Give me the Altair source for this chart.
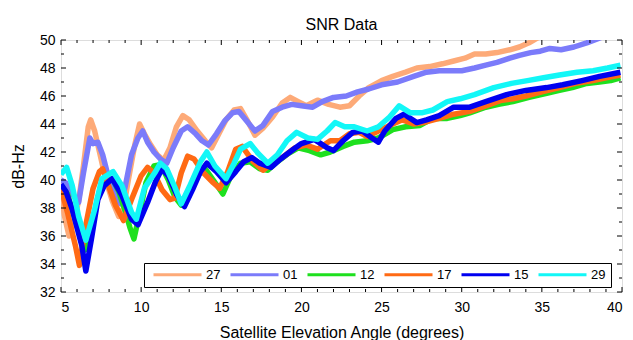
import altair as alt
import pandas as pd

# ---- data ----
series_names = ["27", "01", "12", "17", "15", "29"]
series_colors = ["#FDAA78", "#7B7BFA", "#1EE01E", "#FF6A14", "#0000F0", "#12F7F7"]

x27 = [5.0, 5.2, 5.5, 5.8, 6.1, 6.4, 6.7, 6.85, 7.1, 7.4, 7.8, 8.2, 8.6, 8.9, 9.2, 9.6, 9.9,
       10.2, 10.6, 11.0, 11.4, 11.8, 12.2, 12.6, 13.0, 13.5, 14.0, 14.4, 14.8, 15.3, 15.8,
       16.2, 16.6, 17.1, 17.6, 18.2, 18.8, 19.3, 19.8, 20.3, 21.0, 21.7, 22.4, 23.0, 23.6,
       24.2, 25.0, 25.7, 26.5, 27.2, 28.0, 28.8, 29.5, 30.2, 30.8, 31.5, 32.2, 33.0, 33.6,
       34.2, 34.8, 35.5]
y27 = [39.8, 37.5, 36.0, 37.0, 38.5, 41.0, 43.8, 44.3, 43.5, 42.0, 40.0, 38.5, 37.4, 38.0,
       40.0, 42.5, 44.0, 43.3, 42.5, 41.8, 41.4, 42.3, 43.8, 44.6, 44.3, 43.5, 42.8, 42.3,
       43.2, 44.3, 45.0, 45.1, 44.3, 43.2, 43.7, 44.5, 45.5, 45.9, 45.6, 45.3, 45.7, 45.4,
       45.2, 45.3, 46.0, 46.6, 47.1, 47.4, 47.7, 48.0, 48.1, 48.3, 48.5, 48.7, 49.0, 49.0,
       49.1, 49.3, 49.5, 49.8, 50.2, 50.5]

x01 = [5.0, 5.3, 5.7, 6.1, 6.4, 6.8, 7.0, 7.3, 7.6, 8.0, 8.4, 8.7, 9.0, 9.4, 9.8, 10.1,
       10.4, 10.8, 11.2, 11.6, 12.0, 12.5, 12.9, 13.4, 13.8, 14.2, 14.7, 15.2, 15.7, 16.1,
       16.6, 17.1, 17.6, 18.2, 18.8, 19.4, 20.0, 20.7, 21.3, 22.0, 22.8, 23.5, 24.2, 25.0,
       26.0, 27.0, 27.8, 28.6, 29.3, 30.0, 30.8, 31.5, 32.2, 33.0, 33.6, 34.3, 34.9, 35.5,
       36.2, 37.0, 37.8, 38.5, 39.2]
y01 = [40.0, 39.8, 39.0, 38.4, 40.5, 43.0, 42.6, 42.7, 41.8, 40.0, 38.8, 38.3, 39.5, 41.8,
       43.0, 43.5, 42.7, 42.0, 41.5, 41.2, 42.3, 43.5, 43.8, 43.3, 42.8, 42.5, 43.3, 44.2,
       44.8, 44.9, 44.2, 43.5, 43.9, 44.9, 45.2, 45.4, 45.3, 45.2, 45.6, 45.9, 46.0, 46.3,
       46.5, 46.8, 47.0, 47.4, 47.7, 47.8, 47.8, 47.8, 48.0, 48.2, 48.4, 48.7, 48.9, 49.1,
       49.2, 49.4, 49.3, 49.5, 49.8, 50.1, 50.4]

x12 = [5.0, 5.4, 5.8, 6.2, 6.5, 6.9, 7.3, 7.7, 8.2, 8.6, 9.0, 9.3, 9.55, 9.9, 10.3, 10.8,
       11.2, 11.7, 12.1, 12.5, 13.0, 13.5, 14.0, 14.5, 15.1, 15.6, 16.2, 16.8, 17.4, 17.9,
       18.5, 19.2, 19.8, 20.5, 21.2, 21.8, 22.6, 23.3, 24.1, 24.8, 25.7, 26.5, 27.4, 28.2,
       29.1, 29.9, 30.5, 31.5, 32.3, 33.2, 34.2, 35.3, 36.1, 36.9, 37.8, 38.6, 39.3, 39.9]
y12 = [39.6, 39.0, 37.5, 36.0, 35.0, 36.5, 38.8, 39.8, 40.1, 39.2, 37.8, 36.6, 35.8, 37.6,
       39.8, 41.0, 41.1, 40.0, 38.8, 38.2, 39.3, 40.3, 40.8, 40.0, 39.0, 40.3, 41.2, 41.3,
       40.8, 40.7, 41.3, 41.9, 42.3, 42.1, 41.8, 42.0, 42.4, 42.7, 42.8, 43.0, 43.6, 43.8,
       43.9, 44.4, 44.4, 44.6, 44.8, 45.2, 45.4, 45.6, 45.9, 46.2, 46.4, 46.6, 46.9, 47.0,
       47.1, 47.3]

x17 = [5.0, 5.4, 5.9, 6.15, 6.5, 7.0, 7.4, 7.6, 7.9, 8.4, 8.9, 9.4, 10.0, 10.4, 10.8, 11.3,
       11.8, 12.1, 12.5, 12.9, 13.3, 13.9, 14.5, 14.9, 15.4, 15.9, 16.3, 17.0, 17.6, 18.2,
       18.8, 19.6, 20.3, 21.0, 21.8, 22.4, 23.0, 23.6, 24.1, 24.8, 25.7, 26.3, 27.0, 27.6,
       28.6, 29.5, 30.5, 31.5, 32.5, 33.2, 34.0, 35.0, 36.1, 37.1, 38.2, 39.0, 39.9]
y17 = [39.4, 37.7, 35.3, 33.9, 36.5, 39.4, 40.6, 40.8, 39.8, 38.2, 37.1, 38.6, 40.3, 40.9,
       40.5, 39.3, 38.6, 38.7, 40.5, 41.7, 41.5, 40.5, 39.8, 39.4, 40.6, 42.2, 42.4, 41.3,
       40.7, 41.2, 41.6, 42.3, 42.5, 42.2, 42.8, 42.8, 43.3, 43.4, 43.1, 43.5, 44.0, 44.3,
       44.0, 44.1, 44.4, 44.7, 44.9, 45.3, 45.7, 45.8, 46.0, 46.3, 46.6, 46.9, 47.1, 47.3,
       47.5]

x15 = [5.0, 5.3, 5.7, 6.3, 6.55, 6.9, 7.3, 7.7, 8.2, 8.8, 9.4, 9.8, 10.4, 10.9, 11.3, 11.7,
       12.2, 12.7, 13.2, 13.7, 14.1, 14.7, 15.3, 15.9, 16.4, 16.9, 17.4, 18.1, 18.7, 19.5,
       20.0, 20.8, 21.6, 22.0, 22.6, 23.2, 23.8, 24.4, 24.8, 25.2, 25.9, 26.4, 27.2, 27.8,
       28.6, 29.5, 30.5, 31.5, 32.8, 34.0, 35.3, 36.3, 37.5, 38.6, 39.9]
y15 = [39.7, 39.2, 37.9, 35.3, 33.5, 35.8, 38.6, 39.6, 40.1, 38.9, 37.2, 36.8, 38.4, 39.9,
       40.8, 40.3, 39.0, 38.1, 39.3, 40.6, 41.2, 40.6, 39.8, 40.6, 41.3, 41.6, 41.2, 40.9,
       41.5, 42.2, 42.6, 42.9, 42.3, 42.1, 42.8, 43.4, 43.5, 43.0, 42.7, 43.5, 44.4, 44.7,
       44.1, 44.3, 44.6, 45.2, 45.2, 45.6, 46.1, 46.4, 46.6, 46.8, 47.1, 47.4, 47.7]

x29 = [5.0, 5.35, 5.7, 6.1, 6.55, 7.1, 7.55, 8.25, 8.8, 9.4, 9.7, 10.2, 10.9, 11.2, 11.6,
       12.1, 12.5, 13.0, 13.7, 14.1, 14.6, 15.3, 15.8, 16.2, 16.8, 17.3, 17.9, 18.5, 19.1,
       19.7, 20.4, 21.0, 21.6, 22.1, 22.7, 23.3, 24.1, 24.8, 25.5, 26.1, 26.8, 27.5, 28.2,
       29.1, 29.9, 30.8, 32.0, 33.1, 34.1, 35.1, 36.1, 37.2, 38.2, 39.1, 39.9]
y29 = [40.4, 40.9, 39.6, 37.4, 35.7, 37.9, 40.1, 40.6, 39.6, 37.7, 37.2, 39.4, 40.6, 41.2,
       40.8, 39.5, 38.3, 39.5, 41.3, 42.0, 41.0, 40.1, 41.2, 42.2, 42.6, 41.9, 41.2, 41.8,
       42.8, 43.4, 43.0, 42.9, 43.5, 44.1, 43.8, 43.8, 43.5, 43.8, 44.5, 45.3, 44.8, 44.8,
       45.0, 45.6, 45.8, 46.1, 46.6, 46.9, 47.1, 47.3, 47.5, 47.7, 47.8, 48.0, 48.2]

x_major_ticks = [5, 10, 15, 20, 25, 30, 35, 40]
x_minor_ticks = [v for v in range(5, 41) if v % 5 != 0]
y_major_ticks = [32, 34, 36, 38, 40, 42, 44, 46, 48, 50]
y_minor_ticks = [33, 35, 37, 39, 41, 43, 45, 47, 49]

# ---- build table ----
xs = {"27": x27, "01": x01, "12": x12, "17": x17, "15": x15, "29": x29}
ys = {"27": y27, "01": y01, "12": y12, "17": y17, "15": y15, "29": y29}
rows = []
for name in series_names:
    for xv, yv in zip(xs[name], ys[name]):
        rows.append({"angle": xv, "snr": yv, "sat": name})
df = pd.DataFrame(rows)

W, H = 561, 252
FONT = "Liberation Sans"

x_scale = alt.Scale(domain=[5, 40], nice=False, zero=False)
y_scale = alt.Scale(domain=[32, 50], nice=False, zero=False)

x_axis = alt.Axis(values=x_major_ticks, format="d", tickSize=0, domain=False, grid=False,
                  labelFont=FONT, labelFontSize=14, labelColor="black", labelPadding=8,
                  title="Satellite Elevation Angle (degrees)", titleFont=FONT,
                  titleFontSize=16, titleFontWeight="normal", titleColor="black",
                  titlePadding=10)
y_axis = alt.Axis(values=y_major_ticks, format="d", tickSize=0, domain=False, grid=False,
                  labelFont=FONT, labelFontSize=14, labelColor="black", labelPadding=6,
                  title="dB-Hz", titleFont=FONT, titleFontSize=16,
                  titleFontWeight="normal", titleColor="black", titlePadding=13)

color = alt.Color("sat:N", scale=alt.Scale(domain=series_names, range=series_colors),
                  legend=alt.Legend(title=None, orient="none", legendX=83, legendY=223,
                                    direction="horizontal", columns=6,
                                    symbolType="M-3,0L3,0", symbolSize=256,
                                    symbolStrokeWidth=3, symbolOffset=19,
                                    labelOffset=19, clipHeight=13,
                                    labelFont=FONT, labelFontSize=13, labelColor="black",
                                    strokeColor="black", fillColor="white",
                                    padding=5, columnPadding=5))

base = alt.Chart(df)
layers = []
for name in series_names:
    layers.append(
        base.transform_filter(alt.datum.sat == name)
        .mark_line(strokeWidth=5.5, strokeJoin="round", clip=True)
        .encode(x=alt.X("angle:Q", scale=x_scale, axis=x_axis),
                y=alt.Y("snr:Q", scale=y_scale, axis=y_axis),
                color=color)
    )

xt_major = pd.DataFrame({"t": x_major_ticks})
xt_minor = pd.DataFrame({"t": x_minor_ticks})
yt_major = pd.DataFrame({"t": y_major_ticks})
yt_minor = pd.DataFrame({"t": y_minor_ticks})

def xticks(frame, length):
    xe = alt.X("t:Q", scale=x_scale, axis=x_axis)
    bot = alt.Chart(frame).mark_rule(color="black", strokeWidth=1).encode(
        x=xe, y=alt.value(H), y2=alt.value(H - length))
    top = alt.Chart(frame).mark_rule(color="black", strokeWidth=1).encode(
        x=xe, y=alt.value(0), y2=alt.value(length))
    return [bot, top]

def yticks(frame, length):
    ye = alt.Y("t:Q", scale=y_scale, axis=y_axis)
    left = alt.Chart(frame).mark_rule(color="black", strokeWidth=1).encode(
        y=ye, x=alt.value(0), x2=alt.value(length))
    right = alt.Chart(frame).mark_rule(color="black", strokeWidth=1).encode(
        y=ye, x=alt.value(W), x2=alt.value(W - length))
    return [left, right]

tick_layers = xticks(xt_major, 5) + xticks(xt_minor, 3) + yticks(yt_major, 5) + yticks(yt_minor, 3)

chart = alt.layer(*layers, *tick_layers).properties(
    width=W, height=H,
    title=alt.TitleParams("SNR Data", font=FONT, fontSize=16, fontWeight="normal",
                          color="black", offset=0),
    autosize=alt.AutoSizeParams(type="none"),
    padding={"left": 61, "top": 40, "right": 11, "bottom": 48},
).configure_view(stroke="black", strokeWidth=1.3
).configure_legend(strokeWidth=1.5).configure(background="white")

chart.save("out.html", embed_options={"renderer": "svg", "actions": False})
